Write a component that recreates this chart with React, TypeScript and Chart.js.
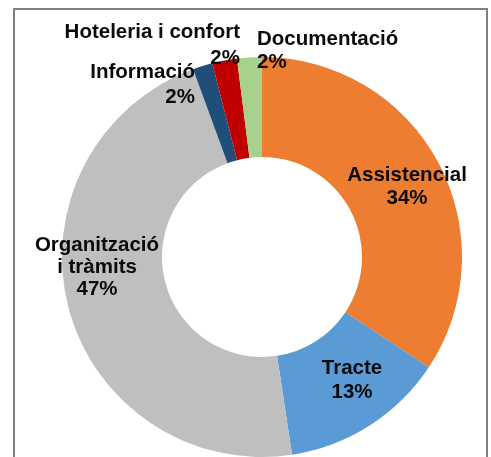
import React, { useEffect, useRef } from "react";
import { Chart, registerables } from "chart.js";

Chart.register(...registerables);

const categories = ["Assistencial", "Tracte", "Organització i tràmits", "Informació", "Hoteleria i confort", "Documentació"];
const values = [34.3, 13.3, 46.8, 1.6, 2.0, 2.0];
const colors = ["#ED7D31", "#5B9BD5", "#BFBFBF", "#1F4E79", "#C00000", "#A9D18E"];
const labelLines = [["Assistencial"], ["Tracte"], ["Organització", "i tràmits"], ["Informació"], ["Hoteleria i confort"], ["Documentació"]];

// label placement relative to chart centre: [dx, dy, align, lineHeight]
const labelLayout: [number, number, CanvasTextAlign, number][] = [
  [145, -82, "center", 23],
  [90, 111, "center", 24],
  [-165, -12, "center", 22],
  [-67, -185, "right", 25],
  [-22, -225, "right", 26],
  [-5, -218, "left", 23],
];

const labelPlugin = {
  id: "sliceLabels",
  afterDatasetsDraw(chart: any) {
    const meta = chart.getDatasetMeta(0);
    const ctx = chart.ctx;
    const total = values.reduce((a, b) => a + b, 0);
    ctx.save();
    ctx.fillStyle = "#0a0a0a";
    ctx.font = "bold 20.5px 'Liberation Sans', Arial, sans-serif";
    ctx.textBaseline = "middle";
    meta.data.forEach((arc: any, i: number) => {
      const cx = arc.x;
      const cy = arc.y;
      const [dx, dy, align, lh] = labelLayout[i];
      const lines = [...labelLines[i], Math.round((values[i] / total) * 100) + "%"];
      ctx.textAlign = align;
      lines.forEach((t, k) => ctx.fillText(t, cx + dx, cy + dy + k * lh));
    });
    ctx.restore();
  },
};

export default function App() {
  const ref = useRef<HTMLCanvasElement>(null);
  useEffect(() => {
    const chart = new Chart(ref.current!, {
      type: "doughnut",
      data: {
        labels: categories,
        datasets: [{ data: values, backgroundColor: colors, borderWidth: 0 }],
      },
      options: {
        animation: false,
        responsive: false,
        cutout: "50%",
        layout: { padding: { left: 47, top: 47, right: 24, bottom: 13 } },
        plugins: { legend: { display: false }, tooltip: { enabled: false } },
      },
      plugins: [labelPlugin],
    });
    return () => chart.destroy();
  }, []);
  return (
    <div style={{ position: "fixed", left: 13, top: 8, width: 471, height: 460, border: "2px solid #7f7f7f", background: "#fff", boxSizing: "content-box" }}>
      <canvas ref={ref} width={471} height={460} style={{ display: "block" }} />
    </div>
  );
}
